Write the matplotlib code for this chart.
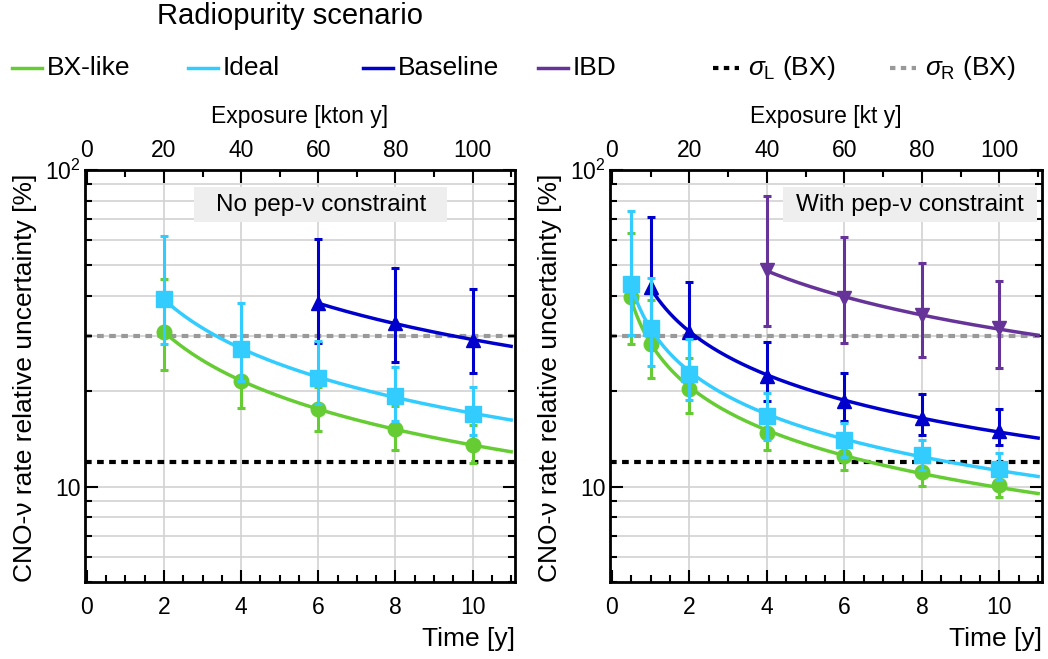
import numpy as np
import matplotlib.pyplot as plt
from matplotlib.lines import Line2D
from matplotlib.patches import Rectangle
from matplotlib.ticker import FixedLocator, MultipleLocator, NullFormatter, FixedFormatter

plt.rcParams['font.family'] = ['Liberation Sans', 'DejaVu Sans']
plt.rcParams['mathtext.fontset'] = 'custom'
plt.rcParams['mathtext.rm'] = 'Liberation Sans'
plt.rcParams['mathtext.it'] = 'Liberation Sans:italic'
plt.rcParams['mathtext.bf'] = 'Liberation Sans:bold'

# ---- data (values in %) ----
# left panel: no pep-nu constraint
t_left = [2, 4, 6, 8, 10]
bx_left = [30.8, 21.6, 17.6, 15.2, 13.5]
bx_left_hi = [45.2, 26.5, 20.6, 18.0, 15.7]
bx_left_lo = [23.4, 17.7, 15.0, 13.1, 11.9]
ideal_left = [39.1, 27.2, 22.1, 19.3, 17.0]
ideal_left_hi = [62.0, 37.9, 28.9, 23.9, 20.7]
ideal_left_lo = [28.2, 21.5, 18.3, 16.1, 14.6]
t_base_left = [6, 8, 10]
base_left = [37.9, 32.8, 29.1]
base_left_hi = [60.5, 49.1, 42.0]
base_left_lo = [28.5, 24.8, 22.8]

# right panel: with pep-nu constraint
t_right = [0.5, 1, 2, 4, 6, 8, 10]
bx_right = [39.6, 28.2, 20.3, 14.8, 12.5, 11.1, 10.1]
bx_right_hi = [63.2, 38.8, 25.4, 16.6, 13.8, 12.2, 10.9]
bx_right_lo = [28.2, 22.1, 17.1, 13.1, 11.3, 10.05, 9.3]
ideal_right = [43.6, 31.6, 22.7, 16.7, 14.05, 12.6, 11.35]
ideal_right_hi = [74.3, 45.5, 29.2, 19.8, 15.9, 14.05, 12.75]
ideal_right_lo = [30.1, 24.1, 18.8, 14.0, 12.4, 11.3, 10.5]
t_base_right = [1, 2, 4, 6, 8, 10]
base_right = [42.6, 30.8, 22.4, 18.6, 16.5, 15.0]
base_right_hi = [71.3, 44.4, 28.7, 22.9, 19.6, 17.6]
base_right_lo = [30.1, 23.9, 18.6, 16.1, 14.6, 13.5]
t_ibd = [4, 6, 8, 10]
ibd_right = [48.3, 39.4, 34.8, 31.6]
ibd_right_hi = [82.8, 61.5, 51.0, 44.6]
ibd_right_lo = [32.2, 28.5, 25.6, 23.7]

sigma_L = 12.0   # BX
sigma_R = 30.0   # BX

GREEN = '#66cc33'
CYAN = '#33ccff'
BLUE = '#0000cc'
PURPLE = '#663399'

styles = {
    'BX-like': dict(color=GREEN, marker='o', ms=10.5),
    'Ideal': dict(color=CYAN, marker='s', ms=11),
    'Baseline': dict(color=BLUE, marker='^', ms=10.5),
    'IBD': dict(color=PURPLE, marker='v', ms=10.5),
}

left_series = [
    ('BX-like', t_left, bx_left, bx_left_lo, bx_left_hi),
    ('Baseline', t_base_left, base_left, base_left_lo, base_left_hi),
    ('Ideal', t_left, ideal_left, ideal_left_lo, ideal_left_hi),
]
right_series = [
    ('BX-like', t_right, bx_right, bx_right_lo, bx_right_hi),
    ('IBD', t_ibd, ibd_right, ibd_right_lo, ibd_right_hi),
    ('Baseline', t_base_right, base_right, base_right_lo, base_right_hi),
    ('Ideal', t_right, ideal_right, ideal_right_lo, ideal_right_hi),
]

fig = plt.figure(figsize=(10.48, 6.59), dpi=100)
ax1 = fig.add_axes([85 / 1048, 1 - 582 / 659, 430 / 1048, 412 / 659])
ax2 = fig.add_axes([610 / 1048, 1 - 582 / 659, 432 / 1048, 412 / 659])

XMAX = 11.1


def draw_panel(ax, series, box_text, box_x, top_label):
    ax.set_yscale('log')
    ax.set_xlim(-0.05, XMAX)
    ax.set_ylim(5, 100)

    # grid
    for y in list(range(6, 10)) + [10] + list(range(20, 100, 10)):
        ax.axhline(y, color='#d2d2d2', lw=1.2, zorder=0)
    for x in [2, 4, 6, 8, 10]:
        ax.axvline(x, color='#d2d2d2', lw=1.2, zorder=0)

    ax.axhline(sigma_R, color='#999999', lw=3, ls=(0, (1.6, 1.3)), zorder=1)
    ax.axhline(sigma_L, color='black', lw=3, ls=(0, (1.6, 1.3)), zorder=1)

    for i, (name, t, v, lo, hi) in enumerate(series):
        st = styles[name]
        t = np.array(t, float)
        v = np.array(v, float)
        yerr = [v - np.array(lo), np.array(hi) - v]
        # power-law fit through the points, drawn as the smooth curve
        b, a = np.polyfit(np.log(t), np.log(v), 1)
        tt = np.linspace(t[0], XMAX - 0.1, 200)
        ax.plot(tt, np.exp(a + b * np.log(tt)), color=st['color'], lw=2.5, zorder=2 + i)
        ax.errorbar(t, v, yerr=yerr, fmt=st['marker'], color=st['color'], ms=st['ms'],
                    elinewidth=2.2, capsize=3, capthick=2.2, zorder=2 + i)

    bw, bh, by = 0.588, 0.085, 0.916
    ax.add_patch(Rectangle((box_x - bw / 2, by - bh / 2), bw, bh, transform=ax.transAxes,
                           fc='#eeeeee', ec='none', zorder=9))
    ax.text(box_x, by, box_text, transform=ax.transAxes, fontsize=17.5,
            ha='center', va='center', zorder=10)

    # ticks
    ax.xaxis.set_major_locator(MultipleLocator(2))
    ax.xaxis.set_minor_locator(MultipleLocator(0.5))
    ax.yaxis.set_major_locator(FixedLocator([10, 100]))
    ax.yaxis.set_major_formatter(FixedFormatter(['10', r'$10^2$']))
    ax.yaxis.set_minor_locator(FixedLocator(list(range(5, 10)) + list(range(20, 100, 10))))
    ax.yaxis.set_minor_formatter(NullFormatter())
    ax.tick_params(which='both', direction='in', top=False, right=True, labelsize=16.5, width=1.5)
    ax.tick_params(which='major', length=9)
    ax.tick_params(which='minor', length=5)
    ax.tick_params(axis='x', pad=10)
    ax.tick_params(axis='y', pad=3)
    for s in ax.spines.values():
        s.set_linewidth(2)

    sec = ax.secondary_xaxis('top', functions=(lambda x: 10 * x, lambda x: x / 10))
    sec.xaxis.set_major_locator(MultipleLocator(20))
    sec.xaxis.set_minor_locator(MultipleLocator(10))
    sec.tick_params(which='both', direction='in', labelsize=16.5, width=1.5, pad=6)
    sec.tick_params(which='major', length=9)
    sec.tick_params(which='minor', length=5)
    sec.set_xlabel(top_label, fontsize=16.5, labelpad=11)

    ax.set_xlabel('Time [y]', loc='right', fontsize=19, labelpad=6)
    ax.set_ylabel('CNO-ν rate relative uncertainty [%]', loc='bottom', fontsize=19, labelpad=6)


draw_panel(ax1, left_series, 'No pep-ν constraint', 0.548, 'Exposure [kton y]')
draw_panel(ax2, right_series, 'With pep-ν constraint', 0.694, 'Exposure [kt y]')

# ---- legend row ----
fig.text(157 / 1048, 1 - 16 / 659, 'Radiopurity scenario', fontsize=21, ha='left', va='center')
ly = 1 - 68 / 659
entries = [
    (12, 'BX-like', GREEN, '-'),
    (188, 'Ideal', CYAN, '-'),
    (363, 'Baseline', BLUE, '-'),
    (538, 'IBD', PURPLE, '-'),
    (713, r'$\sigma_{\rm L}$ (BX)', 'black', ':'),
    (890, r'$\sigma_{\rm R}$ (BX)', '#999999', ':'),
]
for x0, lab, col, ls in entries:
    if ls == '-':
        fig.add_artist(Line2D([x0 / 1048, (x0 + 30) / 1048], [ly, ly], color=col, lw=2.5))
    else:
        fig.add_artist(Line2D([x0 / 1048, (x0 + 26) / 1048], [ly, ly], color=col, lw=3,
                              ls=(0, (1.3, 1.3))))
    fig.text((x0 + 35) / 1048, ly, lab, fontsize=19, ha='left', va='center')

fig.savefig('out.png', dpi=100)
